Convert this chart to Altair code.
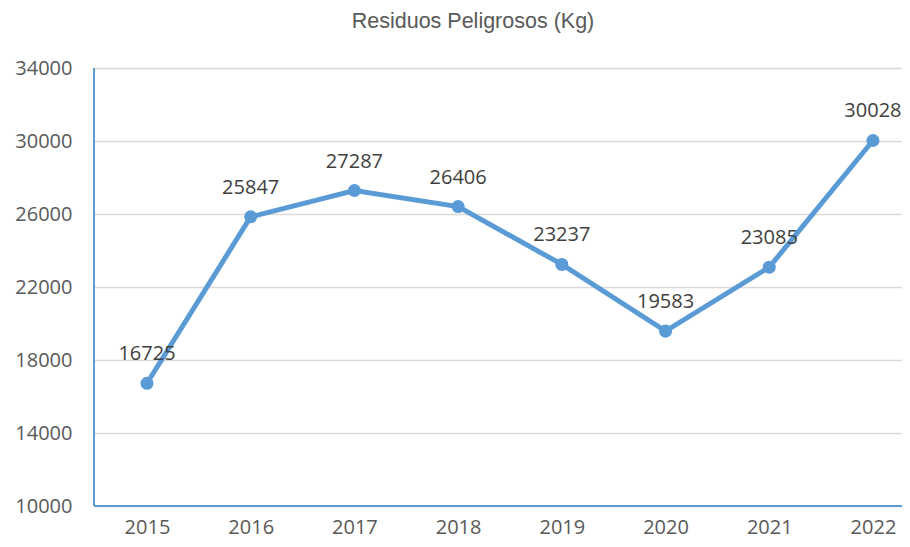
import altair as alt
import pandas as pd

years = ["2015", "2016", "2017", "2018", "2019", "2020", "2021", "2022"]
values = [16725, 25847, 27287, 26406, 23237, 19583, 23085, 30028]
y_ticks = [10000, 14000, 18000, 22000, 26000, 30000, 34000]
title_text = "Residuos Peligrosos (Kg)"

df = pd.DataFrame({"year": years, "value": values})

blue = "#5B9BD5"
W, H = 808, 438

x = alt.X("year:O",
          scale=alt.Scale(type="point", padding=0.3955, align=0.646),
          axis=alt.Axis(title=None, labelAngle=0, domain=False, ticks=False,
                        labelFontSize=20, labelFont="Open Sans", labelColor="#595959",
                        labelBaseline="alphabetic", labelPadding=27, grid=False))
y = alt.Y("value:Q",
          scale=alt.Scale(domain=[10000, 34000], nice=False, zero=False),
          axis=alt.Axis(title=None, values=y_ticks, format="d", domain=False, ticks=False,
                        labelFontSize=20, labelFont="Open Sans", labelColor="#595959",
                        labelPadding=22, grid=True, gridColor="#D9D9D9", gridWidth=1.5))

base = alt.Chart(df)
line = base.mark_line(color=blue, strokeWidth=5).encode(x=x, y=y)
pts = base.mark_point(color=blue, filled=True, opacity=1, size=170).encode(x=x, y=y)
labels = base.mark_text(fontSize=20, font="Open Sans", color="#404040",
                        baseline="alphabetic", dy=-23).encode(x=x, y=y, text="value:Q")
xaxis_line = base.mark_rule(color=blue, strokeWidth=2).encode(
    x=alt.value(0), x2=alt.value(W), y=alt.value(H))
yaxis_line = base.mark_rule(color=blue, strokeWidth=2).encode(
    x=alt.value(0), y=alt.value(0), y2=alt.value(H))

chart = alt.layer(xaxis_line, yaxis_line, line, pts, labels).properties(
    width=W, height=H,
    title=alt.TitleParams(title_text, font="Liberation Sans", fontSize=21.5, color="#595959",
                          fontWeight="normal", anchor="middle", dx=-25, offset=26),
    autosize=alt.AutoSizeParams(type="none"),
    padding={"left": 86, "top": 60, "right": 0, "bottom": 33},
).configure_view(stroke=None).configure(background="white")

chart.save("out.html", embed_options={"renderer": "svg", "actions": False})
